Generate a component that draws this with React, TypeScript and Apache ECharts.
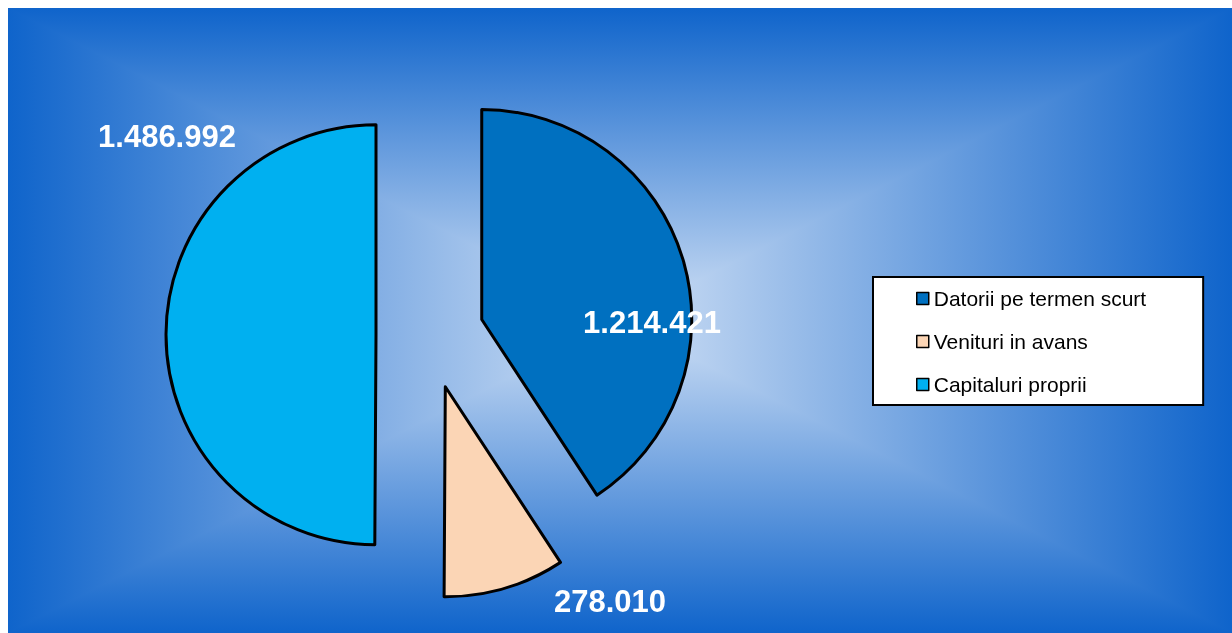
import React, { useEffect, useRef } from "react";
import * as echarts from "echarts";

const categories = ["Datorii pe termen scurt", "Venituri in avans", "Capitaluri proprii"];
const values = [1214421, 278010, 1486992];
const colors = ["#0070C0", "#FBD5B5", "#00B0F0"];

const W = 1224;
const H = 625;
const EDGE = "#0f64cb";
const CENTER = "#d0e0f5";

// label anchor positions (chart coords, centre of text)
const labelPos = [
  [644, 314],
  [602, 593],
  [159, 128],
];

const fmt = (v: number) => String(v).replace(/\B(?=(\d{3})+(?!\d))/g, ".");

function grad(x: number, y: number, x2: number, y2: number) {
  return new echarts.graphic.LinearGradient(x, y, x2, y2, [
    { offset: 0, color: EDGE },
    { offset: 1, color: CENTER },
  ]);
}

export default function App() {
  const ref = useRef<HTMLDivElement>(null);
  useEffect(() => {
    if (!ref.current) return;
    const chart = echarts.init(ref.current, undefined, { renderer: "svg" });
    const cx = W / 2;
    const cy = H / 2;
    const bg = [
      { type: "rect", z: -12, silent: true, shape: { x: 0, y: 0, width: cx + 1, height: H }, style: { fill: grad(0, 0, 1, 0) } },
      { type: "rect", z: -12, silent: true, shape: { x: cx - 1, y: 0, width: W - cx + 1, height: H }, style: { fill: grad(1, 0, 0, 0) } },
      { type: "polygon", z: -10, silent: true, shape: { points: [[0, 0], [W, 0], [cx, cy]] }, style: { fill: grad(0, 0, 0, 1) } },
      { type: "polygon", z: -10, silent: true, shape: { points: [[0, H], [W, H], [cx, cy]] }, style: { fill: grad(0, 1, 0, 0) } },
    ];
    const labels = values.map((v, i) => ({
      type: "text",
      z: 100,
      silent: true,
      x: labelPos[i][0],
      y: labelPos[i][1],
      style: {
        text: fmt(v),
        fill: "#ffffff",
        font: "bold 31px 'Liberation Sans', Arial, sans-serif",
        textAlign: "center",
        textVerticalAlign: "middle",
      },
    }));
    chart.setOption({
      animation: false,
      backgroundColor: "transparent",
      graphic: [...bg, ...labels],
      legend: {
        orient: "vertical",
        left: 865,
        top: 269,
        selectedMode: false,
        backgroundColor: "#ffffff",
        borderColor: "#000000",
        borderWidth: 2,
        padding: [11, 57, 10, 43],
        itemWidth: 12,
        itemHeight: 12,
        itemGap: 22,
        icon: "rect",
        itemStyle: { borderColor: "#000", borderWidth: 1.5 },
        textStyle: { fontFamily: "Liberation Sans, Arial, sans-serif", fontSize: 21, color: "#000", lineHeight: 21 },
        data: categories,
      },
      series: [
        {
          type: "pie",
          center: [422, 327],
          radius: 210,
          startAngle: 90,
          clockwise: true,
          selectedMode: "multiple",
          selectedOffset: 54,
          avoidLabelOverlap: false,
          emphasis: { disabled: true },
          itemStyle: { borderColor: "#000", borderWidth: 3 },
          select: { itemStyle: { borderColor: "#000", borderWidth: 3 } },
          labelLine: { show: false },
          label: { show: false },
          data: categories.map((name, i) => ({
            name,
            value: values[i],
            selected: true,
            itemStyle: { color: colors[i] },
          })),
        },
      ],
    });
    return () => chart.dispose();
  }, []);
  return (
    <div
      ref={ref}
      style={{ position: "fixed", left: 8, top: 8, width: W, height: H }}
    />
  );
}
